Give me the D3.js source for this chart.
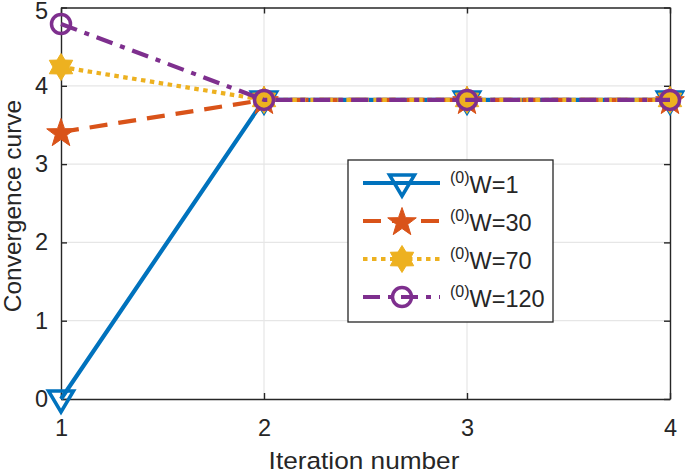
<!DOCTYPE html>
<html><head><meta charset="utf-8">
<script src="https://cdn.jsdelivr.net/npm/d3@7"></script>
<style>body{margin:0;background:#fff}svg{display:block}text{font-family:"Liberation Sans",Arial,sans-serif;fill:#262626}</style>
</head><body>
<svg id="c" width="685" height="475"></svg>
<script>
const iterations = [1, 2, 3, 4];
const w1 = [0, 3.82, 3.82, 3.82];
const w30 = [3.41, 3.82, 3.82, 3.82];
const w70 = [4.24, 3.82, 3.82, 3.82];
const w120 = [4.79, 3.82, 3.82, 3.82];
const seriesNames = ["W=1", "W=30", "W=70", "W=120"];
const xTicks = [1, 2, 3, 4];
const yTicks = [0, 1, 2, 3, 4, 5];

const series = [
  {name: seriesNames[0], vals: w1, color: "#0072BD", dash: null, marker: "tri"},
  {name: seriesNames[1], vals: w30, color: "#D95319", dash: "18,11", marker: "pent"},
  {name: seriesNames[2], vals: w70, color: "#EDB120", dash: "4.5,4.5", marker: "hex"},
  {name: seriesNames[3], vals: w120, color: "#7E2F8E", dash: "17,8,5,8", marker: "circ"}
];

const svg = d3.select("#c");
const L = 61, R = 670, T = 7.5, B = 399;
const x = d3.scaleLinear().domain([1, 4]).range([L, R]);
const y = d3.scaleLinear().domain([0, 5]).range([B, T]);

// grid
const g = svg.append("g");
g.selectAll(".gx").data(xTicks.slice(1, -1)).join("line")
  .attr("x1", d => x(d)).attr("x2", d => x(d)).attr("y1", T).attr("y2", B)
  .attr("stroke", "#e6e6e6").attr("stroke-width", 1.2);
g.selectAll(".gy").data(yTicks.slice(1, -1)).join("line")
  .attr("y1", d => y(d)).attr("y2", d => y(d)).attr("x1", L).attr("x2", R)
  .attr("stroke", "#e6e6e6").attr("stroke-width", 1.2);

// axes
const axB = svg.append("g").attr("transform", `translate(0,${B})`)
  .call(d3.axisBottom(x).tickValues(xTicks).tickFormat(d3.format("d")).tickSizeInner(-6).tickSizeOuter(0).tickPadding(20));
const axL = svg.append("g").attr("transform", `translate(${L},0)`)
  .call(d3.axisLeft(y).tickValues(yTicks).tickFormat(d3.format("d")).tickSizeInner(-6).tickSizeOuter(0).tickPadding(13));
const axT = svg.append("g").attr("transform", `translate(0,${T})`)
  .call(d3.axisTop(x).tickValues(xTicks).tickFormat("").tickSizeInner(-6).tickSizeOuter(0));
const axR = svg.append("g").attr("transform", `translate(${R},0)`)
  .call(d3.axisRight(y).tickValues(yTicks).tickFormat("").tickSizeInner(-6).tickSizeOuter(0));
[axB, axL, axT, axR].forEach(a => {
  a.select(".domain").attr("stroke", "#262626").attr("stroke-width", 1.4);
  a.selectAll(".tick line").attr("stroke", "#262626").attr("stroke-width", 1.4);
  a.selectAll(".tick text").style("font-size", "23.5px").attr("fill", "#262626").style("font-family", '"Liberation Sans",Arial,sans-serif');
});
// keep the top label "5" just inside the page
axL.selectAll(".tick text").filter(d => d === 5).attr("dy", "0.48em");

// marker paths
function starPath(n, ro, ri) {
  const pts = [];
  for (let i = 0; i < 2 * n; i++) {
    const r = i % 2 === 0 ? ro : ri;
    const a = -Math.PI / 2 + i * Math.PI / n;
    pts.push([r * Math.cos(a), r * Math.sin(a)]);
  }
  return "M" + pts.map(p => p[0].toFixed(2) + "," + p[1].toFixed(2)).join("L") + "Z";
}
function drawMarker(sel, type, color, cx, cy) {
  if (type === "tri") {
    sel.append("path").attr("d", "M-12.5,-8L12.5,-8L0,13Z")
      .attr("transform", `translate(${cx},${cy})`).attr("fill", "none")
      .attr("stroke", color).attr("stroke-width", 3.5).attr("stroke-linejoin", "miter");
  } else if (type === "pent") {
    sel.append("path").attr("d", starPath(5, 15, 6)).attr("transform", `translate(${cx},${cy+1.5})`)
      .attr("fill", color).attr("stroke", color).attr("stroke-width", 1);
  } else if (type === "hex") {
    sel.append("path").attr("d", starPath(6, 13.5, 8)).attr("transform", `translate(${cx},${cy})`)
      .attr("fill", color).attr("stroke", color).attr("stroke-width", 1);
  } else {
    sel.append("circle").attr("cx", cx).attr("cy", cy).attr("r", 9.5)
      .attr("fill", "none").attr("stroke", color).attr("stroke-width", 3.5);
  }
}

const line = d3.line().x((d, i) => x(iterations[i])).y(d => y(d));
const plot = svg.append("g");
series.forEach(s => {
  plot.append("path").datum(s.vals).attr("d", line).attr("fill", "none")
    .attr("stroke", s.color).attr("stroke-width", 4.2)
    .attr("stroke-dasharray", s.dash).attr("stroke-linejoin", "round");
  s.vals.forEach((v, i) => drawMarker(plot, s.marker, s.color, x(iterations[i]), y(v)));
});

// legend
const lg = svg.append("g");
lg.append("rect").attr("x", 348).attr("y", 160).attr("width", 205).attr("height", 162)
  .attr("fill", "#fff").attr("stroke", "#262626").attr("stroke-width", 1.3);
const rowY = [183, 221, 259, 297];
series.forEach((s, i) => {
  const yy = rowY[i];
  lg.append("line").attr("x1", 363).attr("x2", 440).attr("y1", yy).attr("y2", yy)
    .attr("stroke", s.color).attr("stroke-width", 4.2).attr("stroke-dasharray", s.dash);
  drawMarker(lg, s.marker, s.color, 402, yy);
  const t = lg.append("text").attr("x", 450).attr("y", yy + 10).style("font-size", "23.5px");
  t.append("tspan").text("(0)").style("font-size", "16px").attr("dy", -10);
  t.append("tspan").text(s.name).attr("dy", 10);
});

// axis titles
svg.append("text").attr("x", 0).attr("y", 0).attr("text-anchor", "middle")
  .attr("transform", "translate(364,469) scale(1.07,1)")
  .style("font-size", "24.5px").text("Iteration number");
svg.append("text").attr("transform", "translate(21,206) rotate(-90)").attr("text-anchor", "middle")
  .style("font-size", "24.5px").text("Convergence curve");
</script>
</body></html>
